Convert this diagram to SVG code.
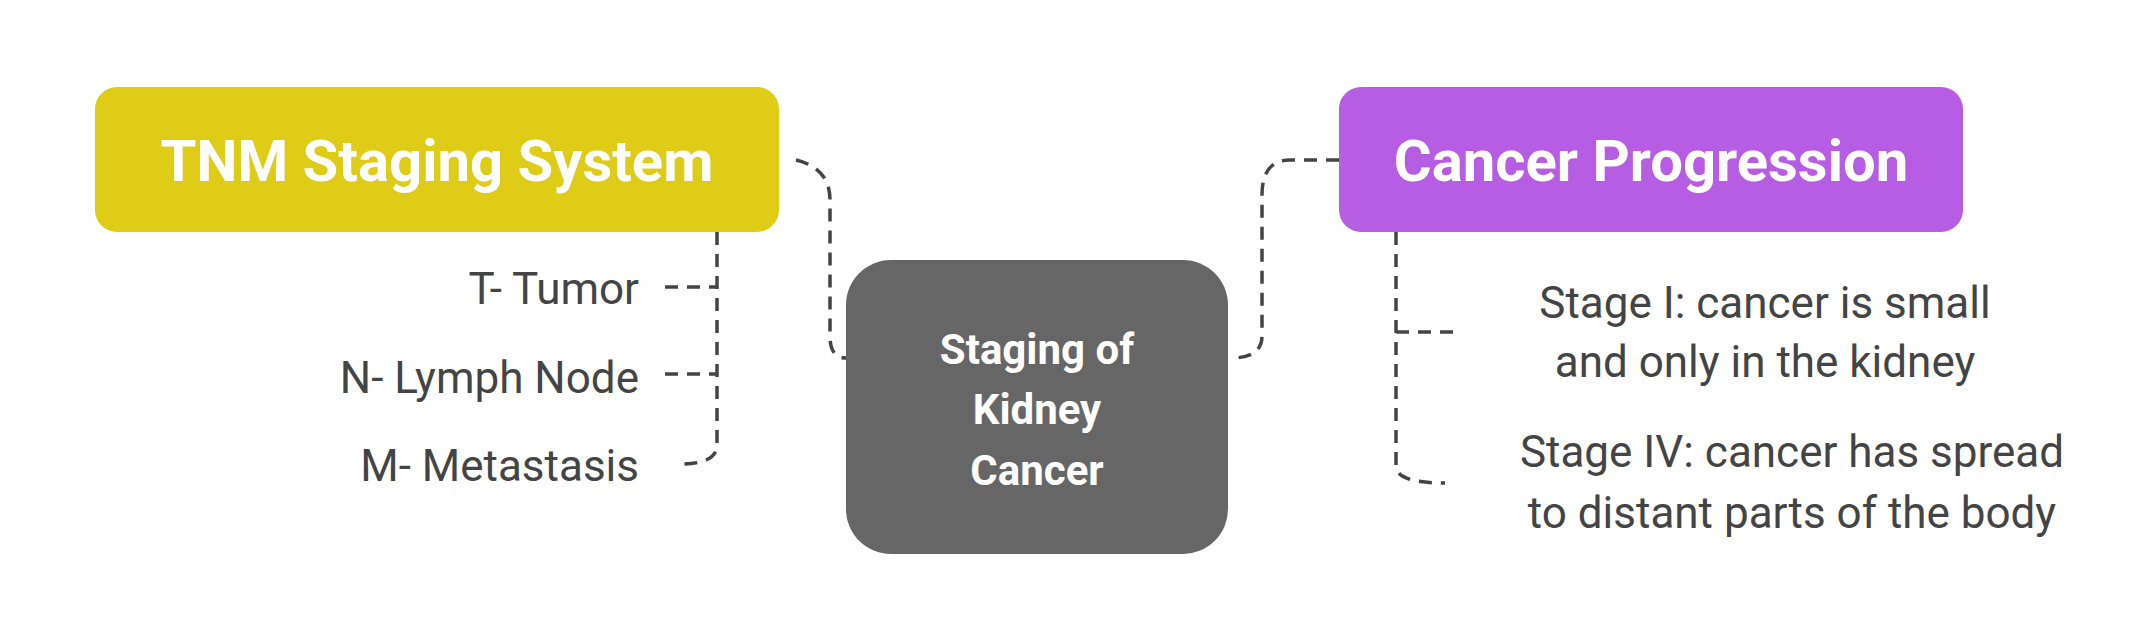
<svg xmlns="http://www.w3.org/2000/svg" width="2130" height="623" viewBox="0 0 2130 623">
<style>
.t{font-family:Roboto,"Liberation Sans",sans-serif;font-weight:bold;fill:#fff}
.c{font-family:Roboto,"Liberation Sans",sans-serif;fill:#444;font-size:44px}
.l{fill:none;stroke:#444;stroke-width:3.5;stroke-dasharray:13 9}
</style>
<rect width="2130" height="623" fill="#fff"/>
<g id="connectors">
<path class="l" d="M796 160 Q830 168 830 200 L830 336 Q830 358 846 358"/>
<path class="l" d="M1339 160 L1290 160 Q1262 160 1262 195 L1262 336 Q1262 358 1231 358"/>
<path class="l" d="M717 232 L717 445 Q717 464 680 464"/>
<path class="l" d="M665 287 L717 287"/>
<path class="l" d="M665 374 L717 374"/>
<path class="l" d="M1396 232 L1396 466 Q1396 483 1445 483"/>
<path class="l" d="M1396 332 L1462 332"/>
</g>
<g id="tnm">
<rect x="95" y="87" width="684" height="145" rx="22" fill="#dfcc16"/>
<text class="t" x="437" y="181" font-size="58" text-anchor="middle">TNM Staging System</text>
</g>
<g id="center">
<rect x="846" y="260" width="382" height="294" rx="45" fill="#666"/>
<text class="t" font-size="42" text-anchor="middle"><tspan x="1037" y="364">Staging of</tspan><tspan x="1037" y="424">Kidney</tspan><tspan x="1037" y="485">Cancer</tspan></text>
</g>
<g id="progression">
<rect x="1339" y="87" width="624" height="145" rx="22" fill="#b75de3"/>
<text class="t" x="1651" y="181" font-size="58" text-anchor="middle">Cancer Progression</text>
</g>
<g id="t"><text class="c" x="639" y="304" text-anchor="end">T- Tumor</text></g>
<g id="n"><text class="c" x="639" y="393" text-anchor="end">N- Lymph Node</text></g>
<g id="m"><text class="c" x="639" y="481" text-anchor="end">M- Metastasis</text></g>
<g id="s1"><text class="c" text-anchor="middle"><tspan x="1765" y="318">Stage I: cancer is small</tspan><tspan x="1765" y="377">and only in the kidney</tspan></text></g>
<g id="s4"><text class="c" text-anchor="middle"><tspan x="1792" y="467">Stage IV: cancer has spread</tspan><tspan x="1792" y="528">to distant parts of the body</tspan></text></g>
</svg>
